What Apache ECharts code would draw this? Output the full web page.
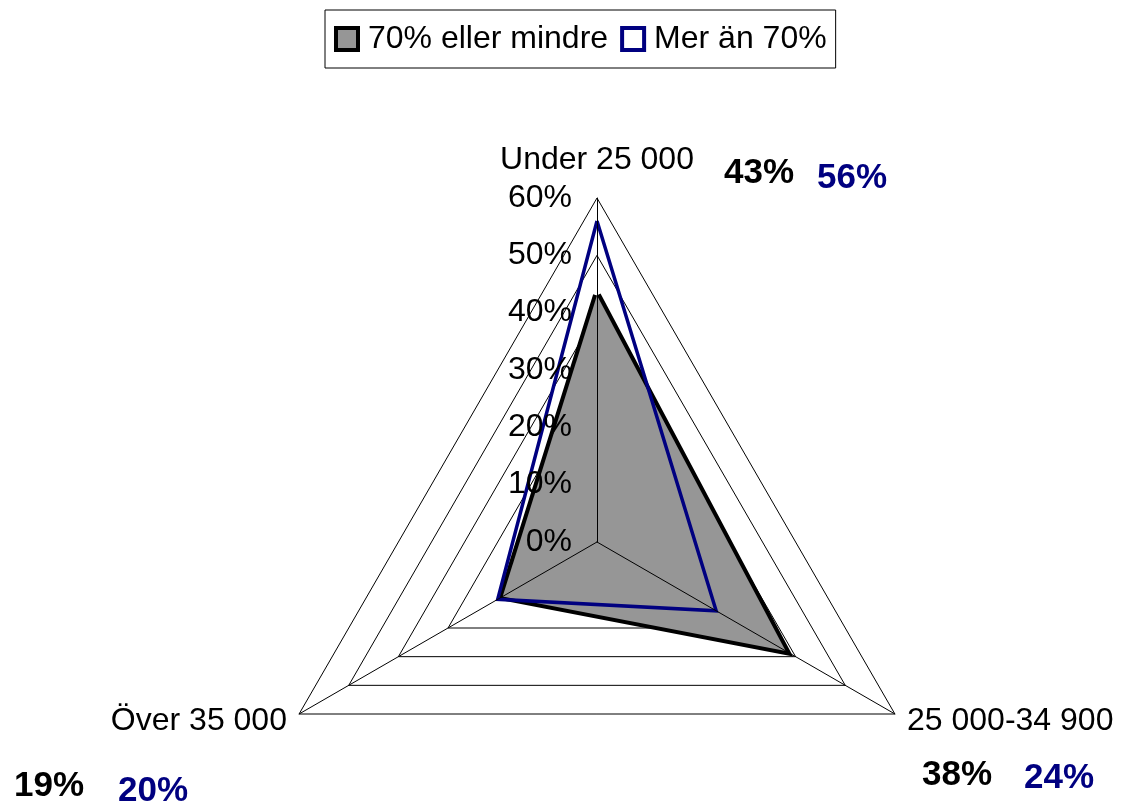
<!DOCTYPE html>
<html>
<head>
<meta charset="utf-8">
<script src="https://cdn.jsdelivr.net/npm/echarts@6/dist/echarts.min.js"></script>
<style>
  html, body { margin: 0; padding: 0; background: #fff; }
  #chart { width: 1130px; height: 806px; }
</style>
</head>
<body>
<div id="chart"></div>
<script>
// categories in echarts radar order (top, bottom-left, bottom-right)
var categories = ['Under 25 000', 'Över 35 000', '25 000-34 900'];
var seriesNames = ['70% eller mindre', 'Mer än 70%'];
var lowShare = [43, 19, 38];
var highShare = [56, 20, 24];
var tickMax = 60;
var tickStep = 10;

var FONT = "'Liberation Sans', Arial, sans-serif";
var NAVY = '#000080';

// where the value texts sit next to each category name
var valueTextPos = [
  [[759, 173], [852, 178]],
  [[49, 786], [153, 791]],
  [[957, 775], [1059, 778]]
];

var chart = echarts.init(document.getElementById('chart'));

var valueTexts = [];
categories.forEach(function (c, i) {
  [lowShare, highShare].forEach(function (arr, s) {
    valueTexts.push({
      type: 'text',
      x: valueTextPos[i][s][0],
      y: valueTextPos[i][s][1],
      style: {
        text: arr[i] + '%',
        fill: s === 0 ? '#000' : NAVY,
        font: 'bold 35px ' + FONT,
        textAlign: 'center',
        textVerticalAlign: 'middle'
      }
    });
  });
});

var indicators = categories.map(function (c) { return { name: c, min: 0, max: tickMax }; });

chart.setOption({
  animation: false,
  legend: {
    top: 10,
    left: 325,
    data: [
      { name: seriesNames[0], icon: 'rect', itemStyle: { color: '#969696', borderColor: '#000', borderWidth: 4 } },
      { name: seriesNames[1], icon: 'rect', itemStyle: { color: '#fff', borderColor: NAVY, borderWidth: 4 } }
    ],
    itemWidth: 22,
    itemHeight: 22,
    itemGap: 12,
    borderColor: '#000',
    borderWidth: 1,
    borderRadius: 0,
    padding: [13, 9, 13, 9],
    textStyle: { fontSize: 32, color: '#000', fontFamily: FONT, padding: [0, 0, 0, 5] }
  },
  radar: [{
    center: [597, 542],
    radius: 344,
    shape: 'polygon',
    splitNumber: tickMax / tickStep,
    indicator: indicators,
    z: 0,
    axisName: {
      color: '#000',
      fontSize: 32,
      fontFamily: FONT,
      formatter: function (name, ind) {
        return name === categories[0] ? '{top|' + name + '}' : name;
      },
      rich: { top: { fontSize: 32, fontFamily: FONT, color: '#000', padding: [0, 0, 8, 0] } }
    },
    nameGap: 14,
    axisLine: { show: false },
    splitLine: { lineStyle: { color: '#000', width: 1 } },
    splitArea: { show: false }
  }, {
    center: [597, 542],
    radius: 344,
    shape: 'polygon',
    splitNumber: tickMax / tickStep,
    indicator: indicators,
    z: 3,
    axisName: { show: false },
    axisLine: { show: true, lineStyle: { color: '#000', width: 1 } },
    splitLine: { show: false },
    splitArea: { show: false }
  }],
  grid: { left: 597, top: 198, height: 344, width: 1 },
  xAxis: { type: 'value', show: false },
  yAxis: {
    type: 'value',
    min: 0,
    max: tickMax,
    interval: tickStep,
    z: 10,
    axisLine: { show: false },
    axisTick: { show: false },
    splitLine: { show: false },
    axisLabel: {
      formatter: '{value}%',
      fontSize: 32,
      fontFamily: FONT,
      color: '#000',
      margin: 25
    }
  },
  series: [{
    type: 'radar',
    radarIndex: 0,
    symbol: 'none',
    z: 2,
    data: [
      {
        name: seriesNames[0],
        value: lowShare,
        lineStyle: { color: '#000', width: 8, join: 'miter' },
        itemStyle: { color: '#969696' },
        areaStyle: { color: '#969696', opacity: 1 }
      },
      {
        name: seriesNames[1],
        value: highShare,
        lineStyle: { color: NAVY, width: 3.5, join: 'miter' },
        itemStyle: { color: NAVY }
      }
    ]
  }],
  graphic: valueTexts
});
</script>
</body>
</html>
